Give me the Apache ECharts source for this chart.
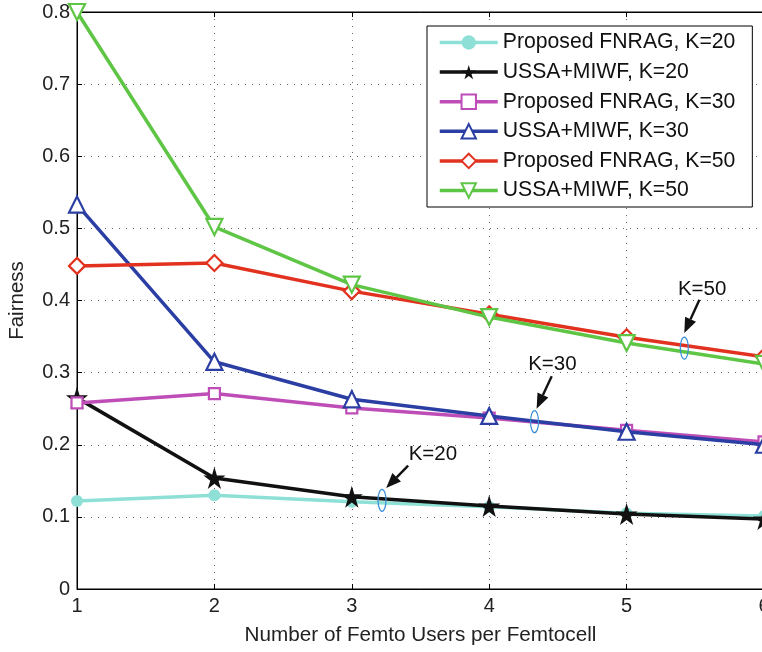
<!DOCTYPE html>
<html><head><meta charset="utf-8">
<script src="https://cdn.jsdelivr.net/npm/echarts@6/dist/echarts.min.js"></script>
<style>html,body{margin:0;padding:0;background:#fff}#c{width:762px;height:652px}</style>
</head><body><div id="c"></div>
<script>
const xValues = [1, 2, 3, 4, 5, 6];
const yTicks = [0, 0.1, 0.2, 0.3, 0.4, 0.5, 0.6, 0.7, 0.8];
const seriesNames = ['Proposed FNRAG, K=20','USSA+MIWF, K=20','Proposed FNRAG, K=30','USSA+MIWF, K=30','Proposed FNRAG, K=50','USSA+MIWF, K=50'];
const fnragK20 = [0.122, 0.130, 0.121, 0.114, 0.105, 0.101];
const ussaK20  = [0.265, 0.154, 0.128, 0.115, 0.104, 0.097];
const fnragK30 = [0.258, 0.271, 0.251, 0.237, 0.220, 0.204];
const ussaK30  = [0.533, 0.315, 0.263, 0.240, 0.218, 0.200];
const fnragK50 = [0.448, 0.452, 0.413, 0.381, 0.349, 0.322];
const ussaK50  = [0.800, 0.502, 0.422, 0.377, 0.341, 0.312];
const annotations = [
  {label:'K=20', text:[3.59,0.187], tail:[3.41,0.171], head:[3.25,0.140], ell:[3.22,0.123]},
  {label:'K=30', text:[4.46,0.312], tail:[4.455,0.295], head:[4.345,0.250], ell:[4.33,0.232]},
  {label:'K=50', text:[5.55,0.416], tail:[5.53,0.401], head:[5.42,0.355], ell:[5.42,0.334]}
];

const STAR = 'path://M50,0 L61,35 L98,35 L68,57 L79,91 L50,70 L21,91 L32,57 L2,35 L39,35 Z';
const styles = [
  {color:'#8ee0d6', symbol:'circle', size:12, fill:true},
  {color:'#111111', symbol:STAR, size:22, fill:true},
  {color:'#bf4db8', symbol:'rect', size:11, fill:false},
  {color:'#2b3ea3', symbol:'triangle', size:16, fill:false},
  {color:'#e2321f', symbol:'diamond', size:16, fill:false},
  {color:'#5ec545', symbol:'triangle', size:16, fill:false, rotate:180}
];
const allData = [fnragK20, ussaK20, fnragK30, ussaK30, fnragK50, ussaK50];

const chart = echarts.init(document.getElementById('c'), null, {renderer:'canvas'});
const FONT = 'Liberation Sans, Arial, Helvetica, sans-serif';

const series = allData.map((vals, i) => ({
  name: seriesNames[i],
  type: 'line',
  data: vals.map((v, j) => [xValues[j], v]),
  symbol: styles[i].symbol,
  symbolSize: styles[i].size,
  symbolRotate: styles[i].rotate || 0,
  showAllSymbol: true,
  lineStyle: {color: styles[i].color, width: 3.5},
  itemStyle: {color: styles[i].fill ? styles[i].color : '#ffffff', borderColor: styles[i].color, borderWidth: styles[i].fill ? 0 : 2.2},
  emphasis: {disabled: true},
  clip: false,
  z: 2 + i
}));

chart.setOption({
  animation: false,
  grid: {left: 77, top: 12, width: 687, height: 577, show: true, borderColor: '#000', borderWidth: 1, containLabel: false, outerBoundsMode: 'none'},
  xAxis: [{
    type: 'value', min: 1, max: 6, interval: 1,
    name: 'Number of Femto Users per Femtocell', nameLocation: 'middle', nameGap: 36,
    nameTextStyle: {fontFamily: FONT, fontSize: 20.7, color: '#222'},
    axisLine: {show: true, lineStyle: {color: '#000', width: 1}},
    axisTick: {show: true, inside: true, length: 5, lineStyle: {color: '#000'}},
    axisLabel: {fontFamily: FONT, fontSize: 20, color: '#222', margin: 7, showMaxLabel: true},
    splitLine: {show: true, lineStyle: {color: '#666', type: [1, 6], width: 1}}
  }, {
    type: 'value', min: 1, max: 6, interval: 1, position: 'top',
    axisLine: {show: true, lineStyle: {color: '#000'}},
    axisTick: {show: true, inside: true, length: 5, lineStyle: {color: '#000'}},
    axisLabel: {show: false}, splitLine: {show: false}
  }],
  yAxis: [{
    type: 'value', min: yTicks[0], max: yTicks[yTicks.length - 1], interval: 0.1,
    name: 'Fairness', nameLocation: 'middle', nameGap: 49,
    nameTextStyle: {fontFamily: FONT, fontSize: 20.5, color: '#222'},
    axisLine: {show: true, lineStyle: {color: '#000', width: 1}},
    axisTick: {show: true, inside: true, length: 5, lineStyle: {color: '#000'}},
    axisLabel: {fontFamily: FONT, fontSize: 20, color: '#222', margin: 7,
      formatter: v => (Math.round(v * 10) / 10).toString()},
    splitLine: {show: true, lineStyle: {color: '#666', type: [1, 6], width: 1}}
  }],
  legend: {
    orient: 'vertical', left: 427, top: 26,
    data: seriesNames,
    backgroundColor: '#fff', borderColor: '#000', borderWidth: 1,
    padding: [6, 17, 6, 11],
    itemWidth: 58, itemHeight: 18, itemGap: 8.6,
    lineStyle: {width: 3.5},
    textStyle: {fontFamily: FONT, fontSize: 21.2, lineHeight: 20, color: '#111'},
    selectedMode: false
  },
  series: series
});

// annotations anchored in data coordinates
const graphics = [];
annotations.forEach(a => {
  const t = chart.convertToPixel({gridIndex: 0}, a.text);
  const p0 = chart.convertToPixel({gridIndex: 0}, a.tail);
  const p1 = chart.convertToPixel({gridIndex: 0}, a.head);
  const e = chart.convertToPixel({gridIndex: 0}, a.ell);
  graphics.push({type: 'text', x: t[0], y: t[1], style: {text: a.label, font: '20.5px ' + FONT, fill: '#111', align: 'center', verticalAlign: 'middle'}, z: 100});
  const dx = p1[0] - p0[0], dy = p1[1] - p0[1];
  const L = Math.hypot(dx, dy), ux = dx / L, uy = dy / L;
  const hl = 15, hw = 6;
  const bx = p1[0] - ux * hl, by = p1[1] - uy * hl;
  graphics.push({type: 'line', shape: {x1: p0[0], y1: p0[1], x2: bx, y2: by}, style: {stroke: '#111', lineWidth: 2.4}, z: 100});
  graphics.push({type: 'polygon', shape: {points: [[p1[0], p1[1]], [bx - uy * hw, by + ux * hw], [bx + uy * hw, by - ux * hw]]}, style: {fill: '#111'}, z: 100});
  graphics.push({type: 'ellipse', shape: {cx: e[0], cy: e[1], rx: 4, ry: 11}, style: {fill: 'none', stroke: '#3a8fd8', lineWidth: 1.2}, z: 100});
});
chart.setOption({graphic: graphics});
</script>
</body></html>
